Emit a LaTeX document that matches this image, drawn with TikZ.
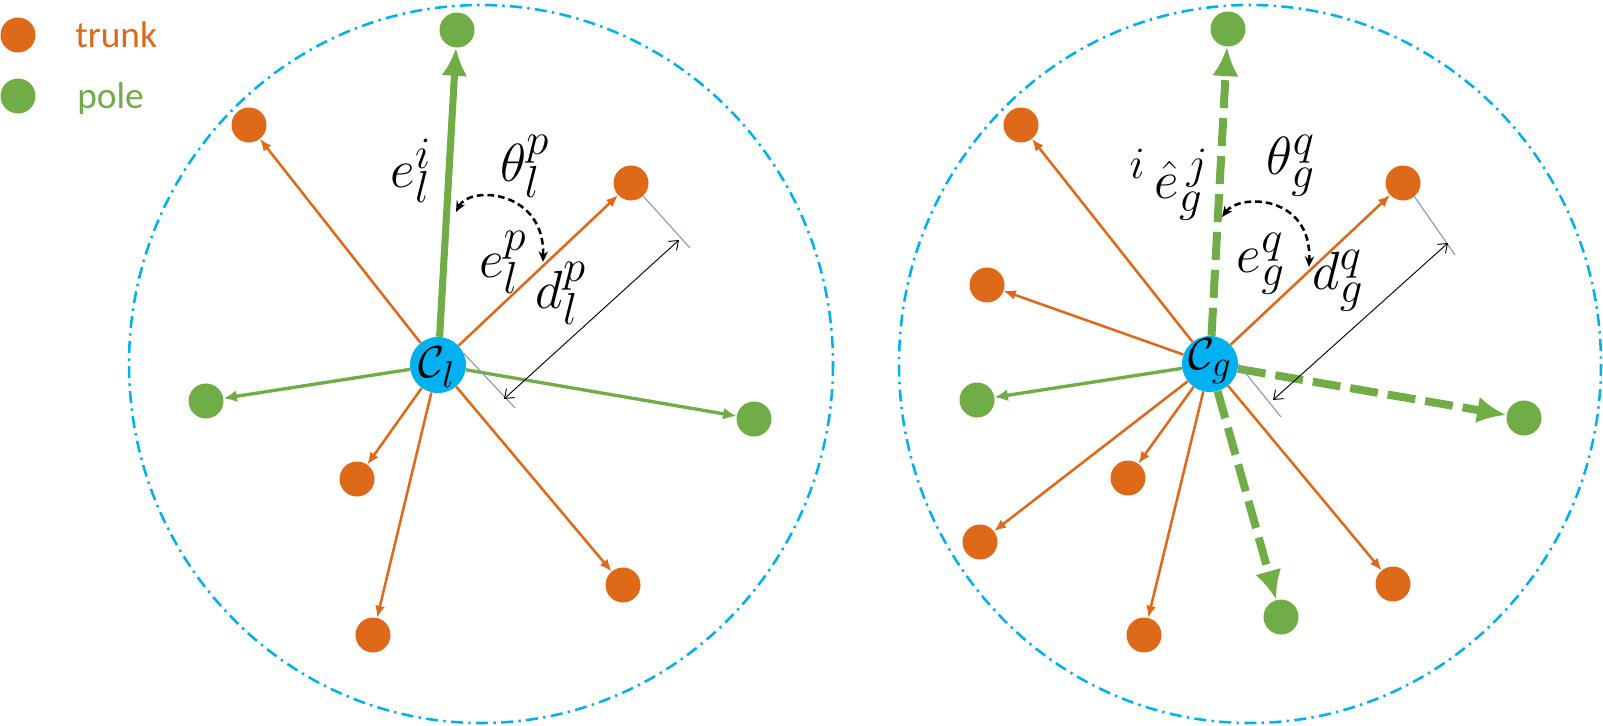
\documentclass[tikz,border=0pt]{standalone}
\usepackage{graphicx}
\usepackage{fontspec}
\newfontfamily\legendfont{Carlito}
\usetikzlibrary{arrows.meta}
\DeclareMathSizes{24.88}{24.88}{20.74}{17.28}
\definecolor{trunkc}{RGB}{222,105,24}
\definecolor{polec}{RGB}{112,173,71}
\definecolor{cblue}{RGB}{0,176,240}
\definecolor{extc}{RGB}{132,151,176}
\newcommand{\labmath}[1]{\scalebox{1.62}{\fontsize{24.88}{30}\selectfont$#1$}}
\newcommand{\cmath}[1]{\scalebox{1.35}{\fontsize{24.88}{30}\selectfont$#1$}}
\tikzset{
 trunkn/.style={circle, fill=trunkc, minimum size=26.25pt, inner sep=0pt},
 polen/.style={circle, fill=polec, minimum size=26.25pt, inner sep=0pt},
 centern/.style={circle, fill=cblue, minimum size=42pt, inner sep=0pt},
 tedge/.style={draw=trunkc, line width=1.9pt, -{Latex[length=9pt,width=7.5pt]}},
 pedge/.style={draw=polec, line width=2.5pt, -{Latex[length=10pt,width=9pt]}},
 pbig/.style={draw=polec, line width=5.3pt, -{Latex[length=21pt,width=19.5pt]}},
 pdash/.style={draw=polec, line width=6pt, dash pattern=on 21pt off 7.5pt, -{Latex[length=22pt,width=20pt]}},
 region/.style={draw=cblue, line width=1.9pt, dash pattern=on 9pt off 4pt on 1.8pt off 4pt},
 anglearc/.style={draw=black, line width=1.9pt, dash pattern=on 5pt off 3pt, {Stealth[length=8pt,width=7pt]}-{Stealth[length=8pt,width=7pt]}},
 extl/.style={draw=extc, line width=0.8pt},
 diml/.style={draw=black, line width=0.7pt, {Straight Barb[length=6pt,width=9pt]}-{Straight Barb[length=6pt,width=9pt]}},
 lab/.style={inner sep=0pt},
 legtext/.style={font=\legendfont\fontsize{28}{34}\selectfont, inner sep=0pt, anchor=base west},
}
\begin{document}
\begin{tikzpicture}[x=0.75pt, y=-0.75pt]
\useasboundingbox (0,0) rectangle (1603,725);
% legend
\node[trunkn] (legt) at (18,35) {};
\node[legtext, text=trunkc] (legtt) at (75,47) {trunk};
\node[polen] (legp) at (18,96) {};
\node[legtext, text=polec] (legpt) at (77,108) {pole};
% regions
\draw[region] (481,364) ellipse [x radius=352, y radius=359];
\draw[region] (1250,364) ellipse [x radius=351, y radius=359];
% ---------- left diagram ----------
\node[centern] (cl) at (438,365) {};
\node[polen] (lgt) at (457,30) {};
\node[trunkn] (lo1) at (249,125) {};
\node[trunkn] (lo2) at (631,183) {};
\node[polen] (lgl) at (206,401) {};
\node[polen] (lgr) at (754,419) {};
\node[trunkn] (lo3) at (357,479) {};
\node[trunkn] (lo4) at (373,635) {};
\node[trunkn] (lo5) at (623,585) {};
\draw[pbig] (cl) -- (lgt);
\draw[tedge] (cl) -- (lo1);
\draw[tedge] (cl) -- (lo2);
\draw[pedge] (cl) -- (lgl);
\draw[pedge] (cl) -- (lgr);
\draw[tedge] (cl) -- (lo3);
\draw[tedge] (cl) -- (lo4);
\draw[tedge] (cl) -- (lo5);
\node[lab] (clt) at (437,367) {\cmath{\mathcal{C}_l}};
% angle
\coordinate (la1) at (456,212);
\coordinate (la2) at (543,262);
\draw[anglearc] (la1) .. controls (470,185) and (545,190) .. (la2);
% dimension
\coordinate (le1) at (690,248);
\coordinate (le2) at (515,408);
\coordinate (ld1) at (504,399);
\coordinate (ld2) at (679,240);
\draw[extl] (lo2.-47) -- (le1);
\draw[extl] (cl.24) -- (le2);
\draw[diml] (ld1) -- (ld2);
% labels
\node[lab] (leli) at (411,171) {\labmath{e_l^i}};
\node[lab] (lth) at (525,166) {\labmath{\theta_l^p}};
\node[lab] (lelp) at (503,262) {\labmath{e_l^p}};
\node[lab] (ldlp) at (561,293) {\labmath{d_l^p}};
% ---------- right diagram ----------
\node[centern] (cg) at (1210,364) {};
\node[polen] (rgt) at (1228,29) {};
\node[trunkn] (ro1) at (1021,125) {};
\node[trunkn] (ro2) at (1403,183) {};
\node[trunkn] (ro3) at (987,285) {};
\node[polen] (rgl) at (977,400) {};
\node[polen] (rgr) at (1524,418) {};
\node[trunkn] (ro4) at (1128,478) {};
\node[trunkn] (ro5) at (980,542) {};
\node[trunkn] (ro6) at (1144,635) {};
\node[polen] (rgb) at (1281,617) {};
\node[trunkn] (ro7) at (1393,584) {};
\draw[tedge] (cg) -- (ro1);
\draw[tedge] (cg) -- (ro2);
\draw[tedge] (cg) -- (ro3);
\draw[pedge] (cg) -- (rgl);
\draw[tedge] (cg) -- (ro4);
\draw[tedge] (cg) -- (ro5);
\draw[tedge] (cg) -- (ro6);
\draw[tedge] (cg) -- (ro7);
\draw[pdash] (cg) -- (rgt);
\draw[pdash] (cg) -- (rgr);
\draw[pdash] (cg) -- (rgb);
\node[lab] (cgt) at (1210,361) {\cmath{\mathcal{C}_g}};
% angle
\coordinate (ra1) at (1222,217);
\coordinate (ra2) at (1309,267);
\draw[anglearc] (ra1) .. controls (1240,193) and (1312,195) .. (ra2);
% dimension
\coordinate (re1) at (1455,255);
\coordinate (re2) at (1281,417);
\coordinate (rd1) at (1273,400);
\coordinate (rd2) at (1448,243);
\draw[extl] (ro2.-50) -- (re1);
\draw[extl] (cg.0) -- (re2);
\draw[diml] (rd1) -- (rd2);
% labels
\node[lab] (rehat) at (1169,185) {\labmath{{}^{i}\,\hat{e}_g^{\,j}}};
\node[lab] (rth) at (1291,166) {\labmath{\theta_g^q}};
\node[lab] (regq) at (1261,264) {\labmath{e_g^q}};
\node[lab] (rdgq) at (1338,281) {\labmath{d_g^q}};
\end{tikzpicture}
\end{document}
